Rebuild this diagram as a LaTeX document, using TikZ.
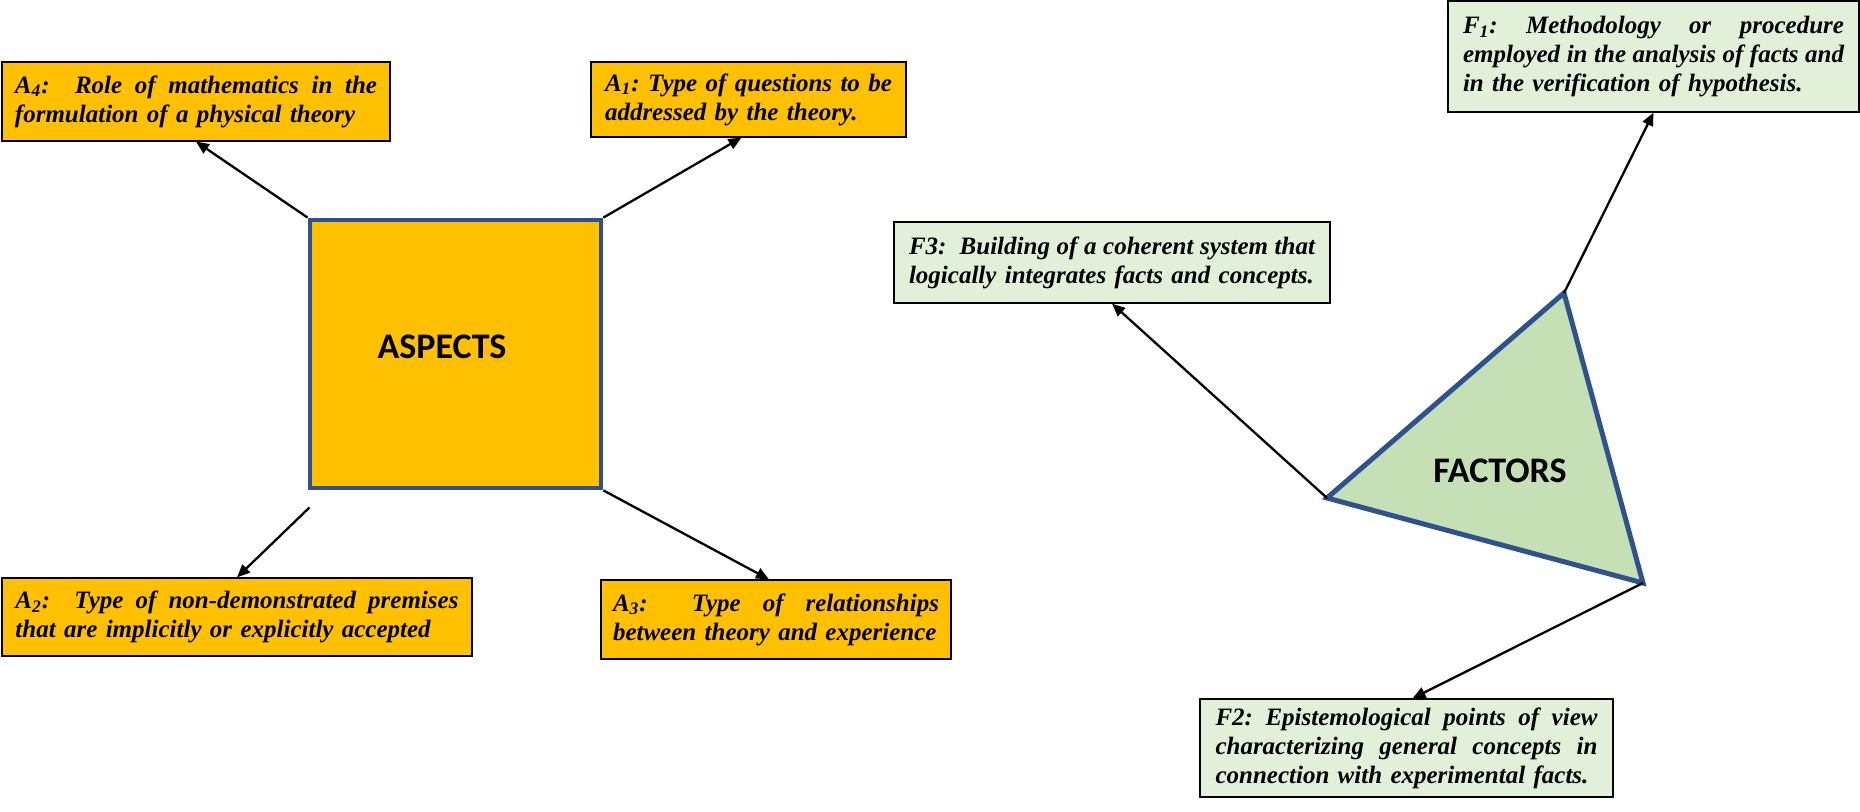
\documentclass[tikz,border=0pt]{standalone}
\usepackage{fontspec}
\setmainfont{Liberation Serif}
\newfontfamily\calib{Carlito}
\usetikzlibrary{arrows.meta,calc}
\definecolor{aorange}{HTML}{FFC000}
\definecolor{fgreen}{HTML}{E2F0D9}
\definecolor{tgreen}{HTML}{C5E0B4}
\definecolor{bblue}{HTML}{2F528F}
\newcommand{\bxfont}{\fontsize{12.5}{14.5}\selectfont\bfseries\itshape}
\newcommand{\fl}[2]{\leavevmode\hbox to #1{\spaceskip=0.25em plus 1fil\relax\xspaceskip=\spaceskip #2}}
\newcommand{\lastln}[1]{\mbox{#1}}
\begin{document}
\begin{tikzpicture}[x=0.5pt,y=-0.5pt,
  abox/.style={draw=black, line width=0.6pt, fill=aorange, inner sep=0pt, font=\bxfont, align=left},
  fbox/.style={draw=black, line width=0.6pt, fill=fgreen, inner sep=0pt, font=\bxfont, align=left},
  conn/.style={draw=black, line width=1.15pt, -{Triangle[length=6.5pt,width=5.5pt]}},
  bigtxt/.style={font=\calib\bfseries\fontsize{18}{20}\selectfont, inner sep=0pt}]
\useasboundingbox (0,0) rectangle (1860,812);
% Aspects side
\node[draw=bblue, line width=2.4pt, fill=aorange, minimum width=145.5pt, minimum height=134pt, inner sep=0pt] (asp) at (455.5,354) {};
\node[bigtxt] (asptxt) at (442,347) {ASPECTS};
\node[abox, minimum width=194pt, minimum height=39.5pt, text width=181pt] (a4) at (196,101.5)
  {\fl{181pt}{A\textsubscript{4}:\ \ Role of mathematics in the}\\\lastln{formulation of a physical theory}};
\node[abox, minimum width=157.5pt, minimum height=37.5pt, text width=143.5pt] (a1) at (748.5,99.5)
  {\fl{143.5pt}{A\textsubscript{1}: Type of questions to be}\\\lastln{addressed by the theory.}};
\node[abox, minimum width=235pt, minimum height=39pt, text width=221.5pt] (a2) at (237,617)
  {\fl{221.5pt}{A\textsubscript{2}:\ \ Type of non-demonstrated premises}\\\lastln{that are implicitly or explicitly accepted}};
\node[abox, minimum width=175pt, minimum height=39.5pt, text width=163pt] (a3) at (776,619.5)
  {\fl{163pt}{A\textsubscript{3}:\ \ Type of relationships}\\\lastln{between theory and experience}};
\coordinate (a2start) at ($(asp.south west)+(2,17)$);
\draw[conn] (asp.north west) -- (a4.south);
\draw[conn] (asp.north east) -- ([xshift=-3.5pt]a1.south);
\draw[conn] (a2start) -- (a2.north);
\draw[conn] (asp.south east) -- ([xshift=-3.5pt]a3.north);
% Factors side
\coordinate (tt) at (1564,293);
\coordinate (tl) at (1327,498);
\coordinate (tr) at (1643,583);
\draw[draw=bblue, line width=2.5pt, fill=tgreen, line join=miter] (tt) -- (tr) -- (tl) -- cycle;
\node[bigtxt] (factxt) at (1500,471) {FACTORS};
\node[fbox, minimum width=205.5pt, minimum height=55.5pt, text width=190.5pt] (f1) at (1653.5,56.5)
  {\fl{190.5pt}{F\textsubscript{1}: Methodology or procedure}\\\fl{190.5pt}{employed in the analysis of facts and}\\\lastln{in the verification of hypothesis.}};
\node[fbox, minimum width=218pt, minimum height=40.5pt, text width=203pt] (f3) at (1112,262.5)
  {\fl{203pt}{F3:\ \ Building of a coherent system that}\\\lastln{logically integrates facts and concepts.}};
\node[fbox, minimum width=206.5pt, minimum height=49pt, text width=191pt] (f2) at (1406.5,748)
  {\fl{191pt}{F2: Epistemological points of view}\\\fl{191pt}{characterizing general concepts in}\\\lastln{connection with experimental facts.}};
\draw[conn] (tt) -- (f1.south);
\draw[conn] (tl) -- (f3.south);
\draw[conn] (tr) -- ([xshift=3pt]f2.north);
\end{tikzpicture}
\end{document}
